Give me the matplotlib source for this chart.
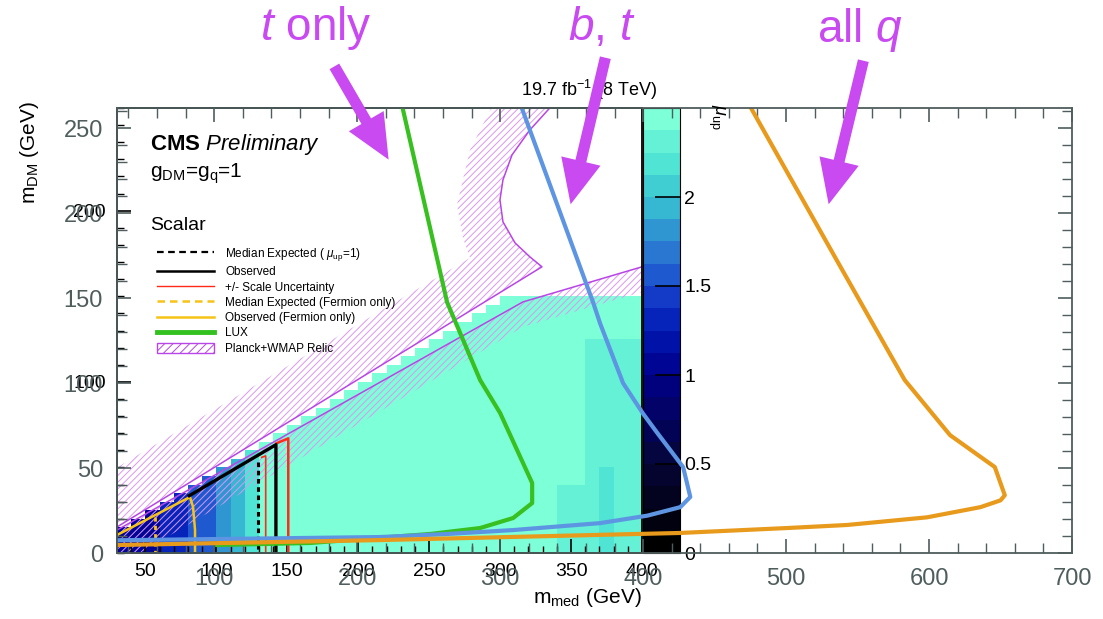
import numpy as np
import matplotlib
matplotlib.use("Agg")
import matplotlib.pyplot as plt
from matplotlib.colors import LinearSegmentedColormap, BoundaryNorm
from matplotlib.ticker import MultipleLocator, FixedLocator
from matplotlib.lines import Line2D
from matplotlib.patches import Patch, Polygon, FancyArrowPatch

plt.rcParams['font.family'] = ['Liberation Sans', 'DejaVu Sans']
plt.rcParams['mathtext.fontset'] = 'custom'
plt.rcParams['mathtext.rm'] = 'Liberation Sans'
plt.rcParams['mathtext.it'] = 'Liberation Sans:italic'
plt.rcParams['mathtext.bf'] = 'Liberation Sans:bold'
plt.rcParams['hatch.linewidth'] = 0.7

NARROW = ['Liberation Sans Narrow', 'Liberation Sans', 'DejaVu Sans']

# ---- CMS scalar mediator heat map (mu_up), 10 GeV x 5 GeV cells ----
med_edges = np.arange(30, 401, 10)
dm_edges = np.arange(0, 151, 5)
col_top = [15, 20, 25, 30, 35, 40, 45, 50, 55, 60, 65, 70, 75, 80, 85, 90, 95,
           100, 105, 110, 115, 120, 125, 130, 135, 140, 145, 150, 150, 150, 150,
           150, 150, 150, 150, 150, 150]
col_mu = [1.0, 1.0, 1.0, 1.3, 1.35, 1.5, 1.55, 1.75, 1.95, 2.2] + [2.6] * 27
# darker blocks at high mediator mass: (x0, x1, y0, y1, mu)
mu_patches = [(340, 360, 0, 40, 2.3), (360, 400, 0, 95, 2.3),
              (360, 400, 95, 125, 2.3), (370, 380, 0, 50, 2.15)]

# ---- exclusion contours (inner frame: m_med, m_DM) ----
obs_x, obs_y = [81, 142, 142], [33.5, 63.3, 0]
exp_x, exp_y = [129.4, 129.4], [53.2, 0]
scale_lo_x, scale_lo_y = [132, 134.8, 134.8], [55.9, 56.7, 0]
scale_hi_x, scale_hi_y = [142.5, 150.7, 150.7], [64.1, 67, 0]
ferm_exp_x, ferm_exp_y = [56.8, 56.8], [21, 0]
ferm_obs_x = [30, 81.4, 83.6, 85, 85]
ferm_obs_y = [10.5, 32.7, 26.9, 13.4, 0]

# relic contours: line and far edge of its hatched side
relic1_x = [30, 329.5, 321, 310.5, 302, 299.9, 302, 308.4, 321, 335.1, 340]
relic1_y = [15.2, 167.2, 173, 181.2, 193.5, 206.3, 218, 232.6, 247.2, 260.1, 265]
relic1_edge_x = [298, 295, 278.8, 269.6, 273.8, 278.8, 30]
relic1_edge_y = [265, 262, 235.5, 203.4, 184.1, 172.4, 50]
relic2_x = [30, 316.1, 400]
relic2_y = [13.4, 146.7, 167.2]
relic2_edge_x = [400, 316.1, 46.2, 30]
relic2_edge_y = [152.5, 132.1, 0, 0]

# ---- overlaid limits (outer frame) ----
lux_x = [231.5, 262.9, 286, 300, 322.4, 322.4, 309.1, 286, 251, 167.1, 102.1]
lux_y = [263, 147.6, 101.8, 82.4, 41.2, 29.4, 20.6, 14.7, 11.2, 5.9, 4.7]
bt_x = [314.7, 365, 370, 386, 400, 410, 428, 433, 426, 403, 370, 309, 263, 216, 32]
bt_y = [263, 147.6, 135, 100, 82, 70.6, 50.6, 33, 27, 22, 17.6, 13.5, 11.2, 9.4, 7.5]
allq_x = [474.8, 535.7, 583, 614.7, 646, 653, 650, 636, 598.6, 542.7, 500.7, 426, 216, 32]
allq_y = [263, 172, 101.8, 69.4, 50.6, 34, 31, 27, 21, 16.5, 14.7, 11.8, 7.6, 4.7]

W, H = 1103, 619
fig = plt.figure(figsize=(W / 100, H / 100), dpi=100)


def box(x0, y0, x1, y1):
    return [x0 / W, 1 - y1 / H, (x1 - x0) / W, (y1 - y0) / H]


ax_in = fig.add_axes(box(117, 108, 642, 553))
cax = fig.add_axes(box(643, 108, 680, 553))
ax_out = fig.add_axes(box(117, 108, 1072, 553), facecolor='none')

# palette: black -> navy -> blue -> aquamarine, 20 steps
cmap = LinearSegmentedColormap.from_list('mu', [
    (0.0, (0, 0, 0)), (0.2, (5 / 255, 5 / 255, 60 / 255)),
    (0.4, (0, 0, 140 / 255)), (0.5, (0, 25 / 255, 180 / 255)),
    (0.6, (25 / 255, 70 / 255, 205 / 255)), (0.7, (45 / 255, 130 / 255, 210 / 255)),
    (0.8, (55 / 255, 190 / 255, 210 / 255)), (0.9, (80 / 255, 230 / 255, 212 / 255)),
    (1.0, (125 / 255, 255 / 255, 215 / 255))])
norm = BoundaryNorm(np.linspace(0, 2.5, 21), cmap.N)

Z = np.full((len(dm_edges) - 1, len(med_edges) - 1), np.nan)
dm_lo = dm_edges[:-1]
med_lo = med_edges[:-1]
for j, (top, mu) in enumerate(zip(col_top, col_mu)):
    Z[dm_lo < top, j] = mu
for x0, x1, y0, y1, mu in mu_patches:
    rows = (dm_lo >= y0) & (dm_lo < y1)
    cols = (med_lo >= x0) & (med_lo < x1)
    sub = Z[np.ix_(rows, cols)]
    Z[np.ix_(rows, cols)] = np.where(np.isnan(sub), np.nan, mu)
mesh = ax_in.pcolormesh(med_edges, dm_edges, np.ma.masked_invalid(Z),
                        cmap=cmap, norm=norm)

relic_c = '#b845e6'
hatch_c = '#dc96f2'
ax_in.add_patch(Polygon(np.column_stack([relic1_x + relic1_edge_x,
                                         relic1_y + relic1_edge_y]),
                        closed=True, facecolor='none', edgecolor=hatch_c,
                        lw=0, hatch='/////'))
ax_in.add_patch(Polygon(np.column_stack([relic2_x + relic2_edge_x,
                                         relic2_y + relic2_edge_y]),
                        closed=True, facecolor='none', edgecolor=hatch_c,
                        lw=0, hatch='/////'))
ax_in.plot(relic1_x, relic1_y, color=relic_c, lw=1.1)
ax_in.plot(relic2_x, relic2_y, color=relic_c, lw=1.1)

yel = '#f7c318'
ax_in.plot(ferm_exp_x, ferm_exp_y, color=yel, lw=2, ls=(0, (1.5, 1.5)))
ax_in.plot(ferm_obs_x, ferm_obs_y, color=yel, lw=1.8)
ax_in.plot(exp_x, exp_y, color='k', lw=2.2, ls=(0, (1.5, 1.2)))
ax_in.plot(scale_lo_x, scale_lo_y, color='#ff2a1a', lw=1.2)
ax_in.plot(scale_hi_x, scale_hi_y, color='#ff2a1a', lw=1.8)
ax_in.plot(obs_x, obs_y, color='k', lw=2.4)

ax_in.set_xlim(30, 400)
ax_in.set_ylim(0, 260)
ax_in.xaxis.set_major_locator(MultipleLocator(50))
ax_in.xaxis.set_minor_locator(MultipleLocator(10))
ax_in.yaxis.set_major_locator(FixedLocator([100, 200]))
ax_in.yaxis.set_minor_locator(MultipleLocator(10))
ax_in.tick_params(which='both', direction='in', colors='k', labelsize=14,
                  top=False, right=False)
ax_in.tick_params(which='major', length=10, width=1.2)
ax_in.tick_params(which='minor', length=5, width=1)
ax_in.tick_params(axis='x', pad=7)
ax_in.tick_params(axis='y', pad=8)
for s in ax_in.spines.values():
    s.set_color('k')
    s.set_linewidth(1.3)
ax_in.set_xlabel(r'm$_{\mathrm{med}}$ (GeV)', fontsize=15, loc='right')
ax_in.xaxis.set_label_coords(1.0, -0.075)
ax_in.set_ylabel(r'm$_{\mathrm{DM}}$ (GeV)', fontsize=15, loc='top')
ax_in.yaxis.set_label_coords(-0.145, 1.015)

ax_in.text(0.063, 0.906, r'$\mathbf{CMS}$ $\mathit{Preliminary}$',
           transform=ax_in.transAxes, fontsize=16, family=NARROW)
ax_in.text(0.063, 0.843, r'g$_{\mathrm{DM}}$=g$_{\mathrm{q}}$=1',
           transform=ax_in.transAxes, fontsize=15, family=NARROW)
ax_in.text(0.063, 0.726, 'Scalar', transform=ax_in.transAxes, fontsize=14,
           family=NARROW)

handles = [
    Line2D([], [], color='k', lw=1.6, ls=(0, (3, 2))),
    Line2D([], [], color='k', lw=1.8),
    Line2D([], [], color='#ff2a1a', lw=1),
    Line2D([], [], color=yel, lw=1.8, ls=(0, (3, 2))),
    Line2D([], [], color=yel, lw=1.8),
    Line2D([], [], color='#33c11f', lw=3.5),
    Patch(facecolor='none', edgecolor=relic_c, hatch='////', lw=1),
]
labels = [r'Median Expected ( $\mu_{\mathrm{up}}$=1)', 'Observed',
          '+/- Scale Uncertainty', 'Median Expected (Fermion only)',
          'Observed (Fermion only)', 'LUX', 'Planck+WMAP Relic']
ax_in.legend(handles, labels, loc='upper left', bbox_to_anchor=(0.076, 0.69),
             frameon=False, borderpad=0, borderaxespad=0, handlelength=4.8,
             handleheight=0.9, handletextpad=1.0, labelspacing=0.28,
             prop=dict(family=NARROW, size=8.5))

cb = fig.colorbar(mesh, cax=cax, ticks=[0, 0.5, 1, 1.5, 2])
cb.outline.set_edgecolor('k')
cax.minorticks_off()
cax.tick_params(which='major', direction='in', length=18, width=1.2,
                labelsize=14, pad=3)
cax.set_yticklabels(['0', '0.5', '1', '1.5', '2'])
fig.text(716 / W, 1 - 104 / H, r'$\mu_{\mathrm{up}}$', rotation=270,
         ha='center', va='top', fontsize=13)
fig.text(657 / W, 1 - 96 / H, r'19.7 fb$^{-1}$ (8 TeV)', ha='right',
         va='baseline', fontsize=13, family=NARROW)

# outer frame: limits by quark coupling
grey = '#4f5d5d'
ax_out.plot(lux_x, lux_y, color='#38c020', lw=3)
ax_out.plot(bt_x, bt_y, color='#5e95e2', lw=3)
ax_out.plot(allq_x, allq_y, color='#e89a1c', lw=3)
ax_out.set_xlim(32, 700)
ax_out.set_ylim(0, 262)
ax_out.xaxis.set_major_locator(MultipleLocator(100))
ax_out.xaxis.set_minor_locator(MultipleLocator(20))
ax_out.yaxis.set_major_locator(MultipleLocator(50))
ax_out.yaxis.set_minor_locator(MultipleLocator(10))
ax_out.tick_params(which='both', direction='in', top=True, right=True,
                   colors=grey, labelsize=17, labelcolor=grey)
ax_out.tick_params(which='major', length=10, width=1.2)
ax_out.tick_params(which='minor', length=7, width=1)
ax_out.tick_params(axis='x', pad=11)
ax_out.tick_params(axis='y', pad=10)
for s in ax_out.spines.values():
    s.set_color(grey)
    s.set_linewidth(1.3)

# labels and arrows for the three quark scenarios
mag = '#c84af0'
for txt, cx, cy in [('$t$ only', 316, 28), ('$b$, $t$', 602, 28),
                    ('all $q$', 860, 30)]:
    fig.text(cx / W, 1 - cy / H, txt, ha='center', va='center', fontsize=33,
             color=mag)
for (x0, y0), (x1, y1) in [((333, 64), (390, 162)), ((606, 55), (570, 207)),
                           ((864, 58), (828, 207))]:
    fig.add_artist(FancyArrowPatch(
        (x0 / W, 1 - y0 / H), (x1 / W, 1 - y1 / H), transform=fig.transFigure,
        arrowstyle='simple,head_length=1.6,head_width=1.45,tail_width=0.4',
        mutation_scale=20, color=mag, lw=0, zorder=10))

fig.savefig('out.png', dpi=100)
